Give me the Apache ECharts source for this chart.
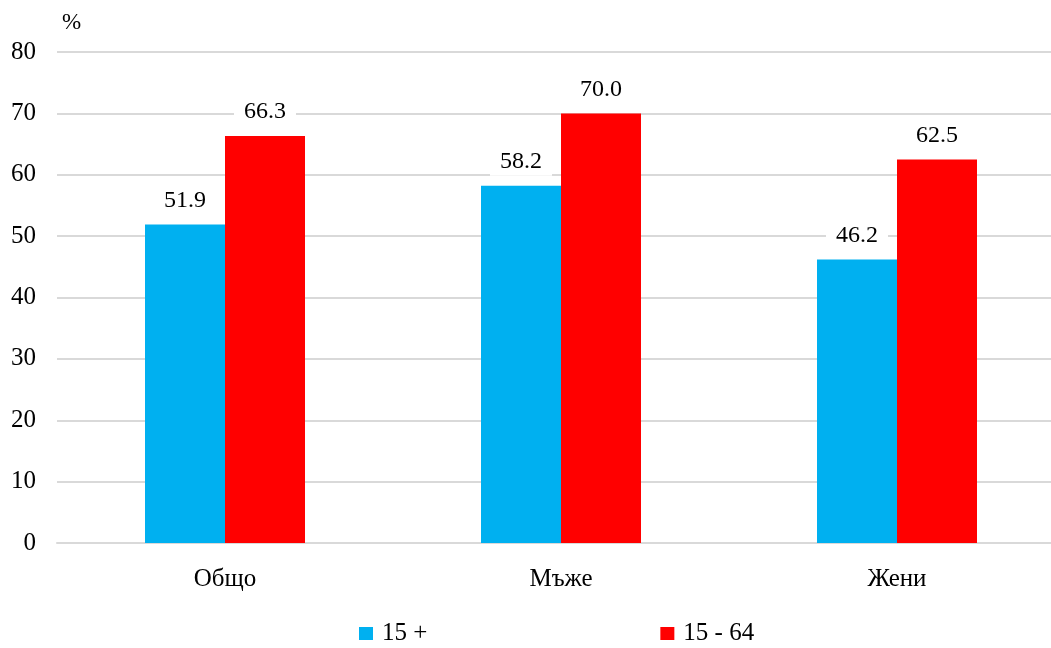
<!DOCTYPE html>
<html><head><meta charset="utf-8">
<script src="https://cdn.jsdelivr.net/npm/echarts@6/dist/echarts.min.js"></script>
<style>html,body{margin:0;padding:0;background:#fff;overflow:hidden}#c{width:1065px;height:648px}</style>
</head><body><div id="c"></div>
<script>
const categories = ['Общо', 'Мъже', 'Жени'];
const seriesNames = ['15 +', '15 - 64'];
const values15plus = [51.9, 58.2, 46.2];
const values15to64 = [66.3, 70.0, 62.5];
const yTicks = {min: 0, max: 80, interval: 10};

const font = '"Liberation Serif", "Times New Roman", serif';
const chart = echarts.init(document.getElementById('c'));
const labelCfg = {
  show: true, position: 'top', distance: 10,
  formatter: p => p.value.toFixed(1),
  fontFamily: font, fontSize: 24, color: '#000',
  backgroundColor: '#fff', padding: [2, 10]
};
chart.setOption({
  animation: false,
  textStyle: {fontFamily: font},
  graphic: [{type: 'text', left: 62, top: 11, style: {text: '%', fontFamily: font, fontSize: 23, fill: '#000'}}],
  grid: {left: 57, top: 52, right: 0, bottom: 105, containLabel: false},
  legend: {
    left: 359, top: 621, padding: 0, itemWidth: 14, itemHeight: 13, itemGap: 233,
    icon: 'rect',
    textStyle: {fontFamily: font, fontSize: 25, color: '#000', padding: [0, 0, 0, 4]},
    data: seriesNames
  },
  xAxis: {
    type: 'category', data: categories,
    axisLine: {show: true, lineStyle: {color: '#d9d9d9', width: 2}},
    axisTick: {show: false},
    axisLabel: {fontFamily: font, fontSize: 25, color: '#000', margin: 24}
  },
  yAxis: {
    type: 'value', min: yTicks.min, max: yTicks.max, interval: yTicks.interval,
    axisLine: {show: false}, axisTick: {show: false},
    splitLine: {lineStyle: {color: '#d9d9d9', width: 2}},
    axisLabel: {fontFamily: font, fontSize: 25, color: '#000', margin: 21}
  },
  series: [
    {name: seriesNames[0], type: 'bar', data: values15plus, barWidth: 80, barGap: '0%',
     itemStyle: {color: '#00B0F0'}, label: labelCfg},
    {name: seriesNames[1], type: 'bar', data: values15to64, barWidth: 80, barGap: '0%',
     itemStyle: {color: '#FF0000'}, label: labelCfg}
  ]
});
</script></body></html>
